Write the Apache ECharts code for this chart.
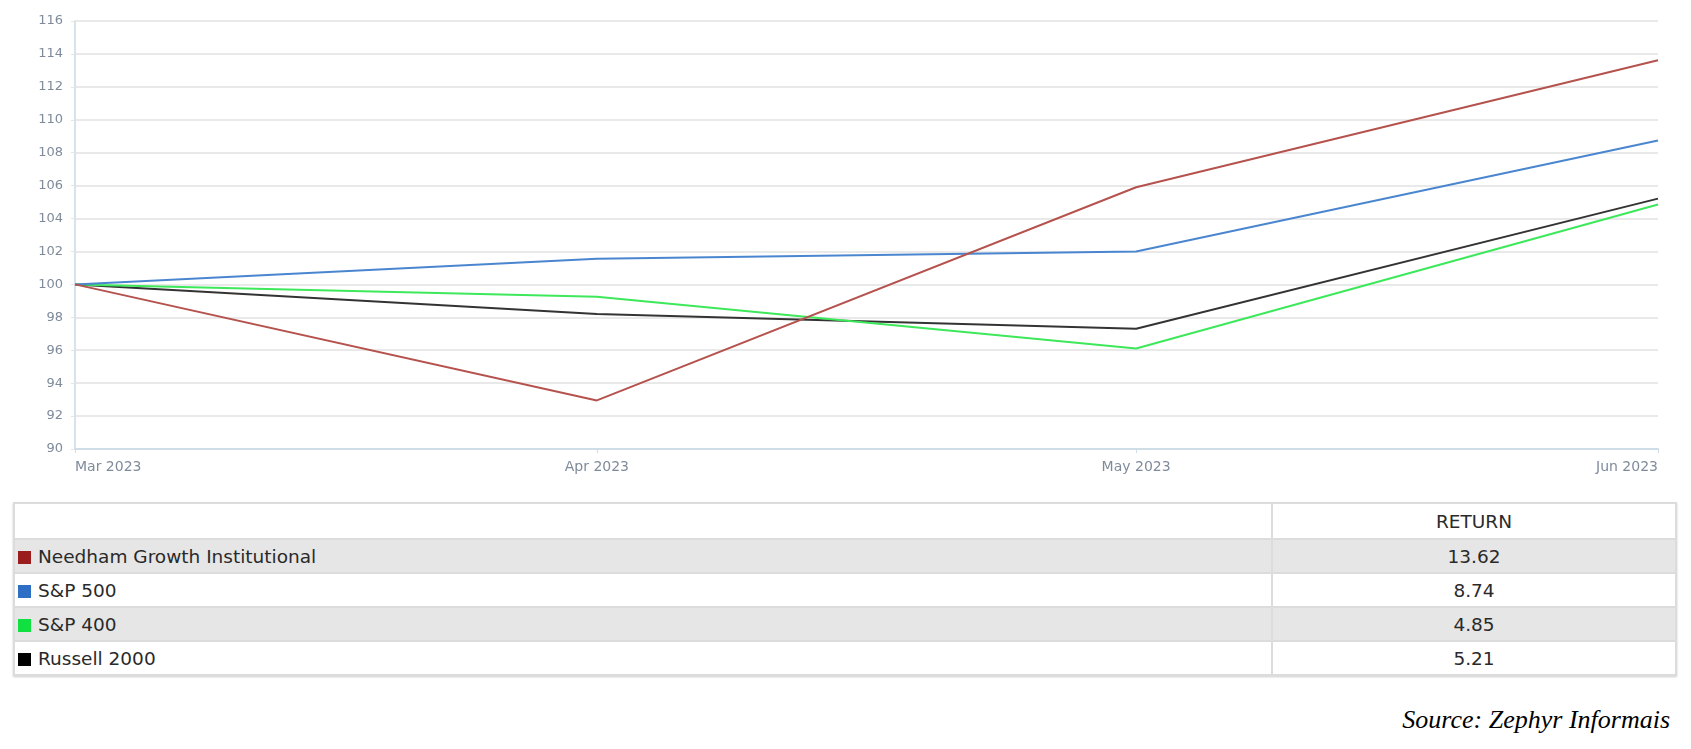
<!DOCTYPE html>
<html><head><meta charset="utf-8">
<script src="https://cdn.jsdelivr.net/npm/echarts@6/dist/echarts.min.js"></script>
<style>
html,body{margin:0;padding:0;background:#fff;width:1691px;height:749px;overflow:hidden;position:relative;}
#chart{position:absolute;left:0;top:0;width:1691px;height:495px;}
#tbl{position:absolute;left:13px;top:502px;width:1664px;border-collapse:collapse;font-family:"DejaVu Sans",Verdana,sans-serif;font-size:18.5px;color:#2a2a2a;box-shadow:0 1px 2px #ccc;}
#tbl td{border:2px solid #dcdcdc;height:32px;padding:0;}
#tbl td.name{padding-left:3px;}
#tbl td.val{text-align:center;width:402px;}
#tbl tr.gray td{background:#e6e6e6;}
.sw{display:inline-block;width:13px;height:13px;margin-right:7px;vertical-align:-1px;}
#src{position:absolute;right:21px;top:705px;font-family:"Liberation Serif","Times New Roman",serif;font-style:italic;font-size:26px;color:#000;}
</style></head>
<body>
<div id="chart"></div>
<table id="tbl"></table>
<div id="src">Source: Zephyr Informais</div>
<script>
const dates = ['2023-03-31','2023-04-30','2023-05-31','2023-06-30'];
const xLabels = ['Mar 2023','Apr 2023','May 2023','Jun 2023'];
const seriesNames = ['Needham Growth Institutional','S&P 500','S&P 400','Russell 2000'];
const needham = [100, 92.95, 105.9, 113.62];
const sp500 = [100, 101.55, 102.0, 108.74];
const sp400 = [100, 99.25, 96.1, 104.85];
const russell = [100, 98.2, 97.3, 105.21];
const returns = ['13.62','8.74','4.85','5.21'];
const returnHeader = 'RETURN';

const lineColors = ['#b5524d','#4a86cf','#3de85a','#333333'];
const swatchColors = ['#9b1c1c','#2e6ec4','#10e040','#000000'];
const allValues = [needham, sp500, sp400, russell];

const tbl = document.getElementById('tbl');
let html = '<tr><td class="name" style="height:34px"></td><td class="val">' + returnHeader + '</td></tr>';
seriesNames.forEach((n, k) => {
  const esc = n.replace(/&/g, '&amp;');
  html += '<tr class="' + (k % 2 === 0 ? 'gray' : '') + '"><td class="name"><span class="sw" style="background:' + swatchColors[k] + '"></span>' + esc + '</td><td class="val">' + returns[k] + '</td></tr>';
});
tbl.innerHTML = html;

// x positions: days since the first date (time-proportional spacing)
const DAY = 86400000;
const t0 = new Date(dates[0] + 'T00:00:00Z').getTime();
const xs = dates.map(d => Math.round((new Date(d + 'T00:00:00Z').getTime() - t0) / DAY));

const chart = echarts.init(document.getElementById('chart'));
chart.setOption({
  animation: false,
  grid: {left: 75, right: 33, top: 21, height: 428},
  xAxis: {
    type: 'value', min: xs[0], max: xs[xs.length-1],
    axisLine: {lineStyle: {color: '#cfdde7', width: 2}},
    axisTick: {show: true, customValues: xs, length: 4, lineStyle: {color: '#cfdde7'}},
    splitLine: {show: false},
    axisLabel: {
      customValues: xs, margin: 11, color: '#7f8b9b',
      fontFamily: 'DejaVu Sans', fontSize: 14,
      alignMinLabel: 'left', alignMaxLabel: 'right',
      formatter: v => { const i = xs.indexOf(Math.round(v)); return i >= 0 ? xLabels[i] : ''; }
    }
  },
  yAxis: {
    type: 'value', min: 90, max: 116, interval: 2,
    axisLine: {show: true, lineStyle: {color: '#d4e3ec', width: 2}},
    axisTick: {show: true, length: 4, lineStyle: {color: '#e4e4e4'}},
    splitLine: {lineStyle: {color: '#e9e9e9', width: 2}},
    axisLabel: {margin: 12, color: '#7f8b9b', fontFamily: 'DejaVu Sans', fontSize: 13}
  },
  series: allValues.map((vals, k) => ({
    name: seriesNames[k], type: 'line', symbol: 'none',
    data: vals.map((v, i) => [xs[i], v]),
    lineStyle: {color: lineColors[k], width: 2},
    z: 10 - k
  }))
});
</script>
</body></html>
